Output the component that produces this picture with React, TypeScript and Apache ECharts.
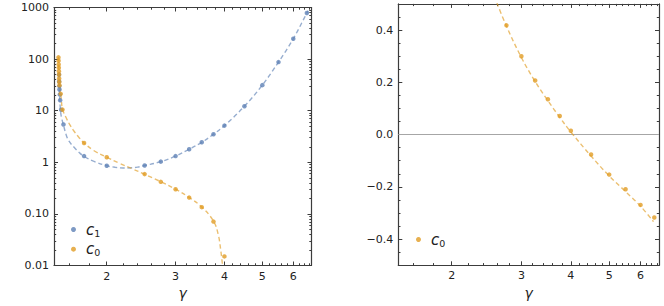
import React, { useEffect, useRef } from 'react';
import * as echarts from 'echarts';

// ---- axis ticks ----
const gammaRange = [1.466, 6.68];
const xTickValues = [2, 3, 4, 5, 6];
const xTickLabels = ['2', '3', '4', '5', '6'];
const xMinorTicks = [1.6, 1.8, 2.2, 2.4, 2.6, 2.8, 3.2, 3.4, 3.6, 3.8, 4.2, 4.4, 4.6, 4.8, 5.2, 5.4, 5.6, 5.8, 6.2, 6.4, 6.6];

const logYTickExp = [-2, -1, 0, 1, 2, 3];
const logYTickLabels = ['0.01', '0.10', '1', '10', '100', '1000'];
const logYMinorMult = [2, 3, 4, 5, 6, 7, 8, 9];

const linYRange = [-0.5, 0.5];
const linYTicks = [-0.4, -0.2, 0, 0.2, 0.4];
const linYTickLabels = ['\u22120.4', '\u22120.2', '0.0', '0.2', '0.4'];
const linYMinorTicks = [-0.45, -0.35, -0.3, -0.25, -0.15, -0.1, -0.05, 0.05, 0.1, 0.15, 0.25, 0.3, 0.35, 0.45];

// ---- data: points ----
const c1Gamma = [1.510, 1.511, 1.513, 1.514, 1.517, 1.520, 1.529, 1.550, 1.75, 2.0, 2.5, 2.75, 3.0, 3.25, 3.5, 3.75, 4.0, 4.5, 5.0, 5.5, 6.0, 6.5];
const c1Value = [49.6, 36.7, 30.0, 25.7, 20.5, 15.9, 10.4, 5.4, 1.32, 0.86, 0.865, 1.03, 1.32, 1.79, 2.44, 3.49, 5.14, 12.2, 31.3, 87.5, 248, 782];

const c0Gamma = [1.505, 1.506, 1.507, 1.508, 1.509, 1.510, 1.511, 1.512, 1.514, 1.525, 1.541, 1.75, 2.0, 2.5, 2.75, 3.0, 3.25, 3.5, 3.75, 4.0, 4.5, 5.0, 5.5, 6.0, 6.5];
const c0Value = [108, 93, 79, 68, 58, 50, 42, 36, 31, 21.2, 10.5, 2.37, 1.25, 0.59, 0.418, 0.30, 0.207, 0.135, 0.071, 0.015, -0.076, -0.153, -0.209, -0.269, -0.317];

// ---- data: fitted curves ----
const c1CurveGamma = [1.509, 1.512, 1.516, 1.521, 1.53, 1.55, 1.575, 1.6, 1.65, 1.7, 1.75, 1.85, 2.0, 2.1, 2.2, 2.3, 2.4, 2.5, 2.75, 3.0, 3.25, 3.5, 3.75, 4.0, 4.5, 5.0, 5.5, 6.0, 6.5, 6.55];
const c1CurveValue = [50, 30, 18, 11.5, 7.8, 5.3, 3.4, 2.6, 1.95, 1.55, 1.30, 1.05, 0.86, 0.80, 0.777, 0.78, 0.808, 0.865, 1.03, 1.32, 1.79, 2.44, 3.49, 5.14, 12.2, 31.3, 87.5, 248, 782, 870];

// left panel (log scale) dashed c0 fit
const c0LogCurveGamma = [1.505, 1.508, 1.511, 1.515, 1.52, 1.53, 1.541, 1.575, 1.61, 1.65, 1.7, 1.75, 1.85, 2.0, 2.15, 2.32, 2.5, 2.75, 3.0, 3.25, 3.5, 3.75, 3.856, 3.917, 3.957];
const c0LogCurveValue = [110, 70, 45, 33, 26, 17, 10.8, 7.3, 5.3, 4.0, 3.0, 2.37, 1.70, 1.25, 0.966, 0.753, 0.587, 0.42, 0.301, 0.208, 0.136, 0.0725, 0.04, 0.019, 0.0098];

// right panel (linear scale) dashed c0 fit
const c0LinCurveGamma = [2.6, 2.75, 3.0, 3.25, 3.5, 3.75, 4.0, 4.5, 5.0, 5.5, 6.0, 6.47];
const c0LinCurveValue = [0.505, 0.415, 0.295, 0.203, 0.13, 0.066, 0.01, -0.082, -0.158, -0.218, -0.274, -0.333];

const BLUE = '#5e81b5';
const ORANGE = '#e19c24';
const AX = '#3c3c3c';
const TXT = '#222222';
const FONT = 'DejaVu Sans';

const lx = (g: number) => Math.log(g);
const ly = (v: number) => Math.log10(v);

const frameLine = { show: true, onZero: false, lineStyle: { color: AX, width: 1.2 } };
const noLine = { show: false, onZero: false };

function xAxes(gridIndex: number) {
  const min = lx(gammaRange[0]);
  const max = lx(gammaRange[1]);
  const major = xTickValues.map(lx);
  const minor = xMinorTicks.map(lx);
  const base: any = { type: 'value', gridIndex, min, max, splitLine: { show: false } };
  return [
    {
      ...base, position: 'bottom', axisLine: frameLine,
      axisTick: { show: true, inside: true, length: 4, customValues: major, lineStyle: { color: AX, width: 1 } },
      axisLabel: {
        show: true, customValues: major, margin: 5, color: TXT, fontFamily: FONT, fontSize: 11,
        formatter: (v: number) => {
          const i = major.findIndex((m) => Math.abs(m - v) < 1e-6);
          return i >= 0 ? xTickLabels[i] : '';
        },
      },
      name: '\u03b3', nameLocation: 'middle', nameGap: 19,
      nameTextStyle: { fontStyle: 'italic', fontSize: 14, fontFamily: FONT, color: TXT },
    },
    {
      ...base, position: 'bottom', axisLine: noLine,
      axisTick: { show: true, inside: true, length: 2.2, customValues: minor, lineStyle: { color: AX, width: 1 } },
      axisLabel: { show: false },
    },
    {
      ...base, position: 'top', axisLine: frameLine,
      axisTick: { show: true, inside: true, length: 4, customValues: major, lineStyle: { color: AX, width: 1 } },
      axisLabel: { show: false },
    },
    {
      ...base, position: 'top', axisLine: noLine,
      axisTick: { show: true, inside: true, length: 2.2, customValues: minor, lineStyle: { color: AX, width: 1 } },
      axisLabel: { show: false },
    },
  ];
}

function yAxes(gridIndex: number, min: number, max: number, major: number[], minor: number[], fmt: (v: number) => string) {
  const base: any = { type: 'value', gridIndex, min, max, splitLine: { show: false } };
  return [
    {
      ...base, position: 'left', axisLine: frameLine,
      axisTick: { show: true, inside: true, length: 4, customValues: major, lineStyle: { color: AX, width: 1 } },
      axisLabel: { show: true, customValues: major, margin: 5, color: TXT, fontFamily: FONT, fontSize: 11, formatter: fmt },
    },
    {
      ...base, position: 'left', axisLine: noLine,
      axisTick: { show: true, inside: true, length: 2.2, customValues: minor, lineStyle: { color: AX, width: 1 } },
      axisLabel: { show: false },
    },
    {
      ...base, position: 'right', axisLine: frameLine,
      axisTick: { show: true, inside: true, length: 4, customValues: major, lineStyle: { color: AX, width: 1 } },
      axisLabel: { show: false },
    },
    {
      ...base, position: 'right', axisLine: noLine,
      axisTick: { show: true, inside: true, length: 2.2, customValues: minor, lineStyle: { color: AX, width: 1 } },
      axisLabel: { show: false },
    },
  ];
}

const legendRich = {
  i: { fontStyle: 'italic', fontSize: 15, fontFamily: FONT, color: TXT, lineHeight: 17, padding: [0, 0, 0, 5] },
  s: { fontSize: 9.5, fontFamily: FONT, color: TXT, verticalAlign: 'bottom' },
};

export default function App() {
  const ref = useRef<HTMLDivElement>(null);
  useEffect(() => {
    if (!ref.current) return;
    const chart = echarts.init(ref.current, undefined, { renderer: 'svg' });

    const logMinor: number[] = [];
    for (let e = -2; e <= 2; e++) logYMinorMult.forEach((k) => logMinor.push(Math.log10(k) + e));

    const leftY = yAxes(0, -2, 3, logYTickExp, logMinor, (v: number) => {
      const i = logYTickExp.indexOf(Math.round(v));
      return i >= 0 ? logYTickLabels[i] : '';
    });
    const rightY = yAxes(1, linYRange[0], linYRange[1], linYTicks, linYMinorTicks, (v: number) => {
      const i = linYTicks.findIndex((t) => Math.abs(t - v) < 1e-6);
      return i >= 0 ? linYTickLabels[i] : '';
    });

    const c1Pts = c1Gamma.map((g, i) => [lx(g), ly(c1Value[i])]);
    const c0PtsLog = c0Gamma.map((g, i) => [g, c0Value[i]]).filter((p) => p[1] > 0).map((p) => [lx(p[0]), ly(p[1])]);
    const c0PtsLin = c0Gamma.map((g, i) => [g, c0Value[i]]).filter((p) => Math.abs(p[1]) <= 0.5).map((p) => [lx(p[0]), p[1]]);
    const c1Line = c1CurveGamma.map((g, i) => [lx(g), ly(c1CurveValue[i])]);
    const c0LineLog = c0LogCurveGamma.map((g, i) => [lx(g), ly(c0LogCurveValue[i])]);
    const c0LineLin = c0LinCurveGamma.map((g, i) => [lx(g), c0LinCurveValue[i]]);

    const dashed = (color: string) => ({ color, width: 1.4, type: [4.5, 3] as any, opacity: 0.65 });

    chart.setOption({
      animation: false,
      backgroundColor: '#ffffff',
      grid: [
        { left: 54, top: 7.5, width: 257.5, height: 258 },
        { left: 398.3, top: 3.9, width: 260.7, height: 261.4 },
      ],
      xAxis: [...xAxes(0), ...xAxes(1)],
      yAxis: [...leftY, ...rightY],
      legend: [
        {
          data: ['c1', 'c0'], orient: 'vertical', left: 66, top: 217, itemWidth: 5, itemHeight: 5, itemGap: 3.7,
          icon: 'circle', selectedMode: false,
          formatter: (n: string) => `{i|c}{s|${n.slice(1)}}`,
          textStyle: { rich: legendRich },
        },
        {
          data: ['c0'], orient: 'vertical', left: 411, top: 227, itemWidth: 5, itemHeight: 5,
          icon: 'circle', selectedMode: false,
          formatter: (n: string) => `{i|c}{s|${n.slice(1)}}`,
          textStyle: { rich: legendRich },
        },
      ],
      series: [
        { name: 'c1 fit', type: 'line', xAxisIndex: 0, yAxisIndex: 0, data: c1Line, showSymbol: false, smooth: 0.4, lineStyle: dashed(BLUE), z: 2 },
        { name: 'c0 fit', type: 'line', xAxisIndex: 0, yAxisIndex: 0, data: c0LineLog, showSymbol: false, smooth: 0.4, lineStyle: dashed(ORANGE), z: 2 },
        { name: 'c1', type: 'scatter', xAxisIndex: 0, yAxisIndex: 0, data: c1Pts, symbolSize: 4.5, itemStyle: { color: BLUE }, z: 3 },
        { name: 'c0', type: 'scatter', xAxisIndex: 0, yAxisIndex: 0, data: c0PtsLog, symbolSize: 4.5, itemStyle: { color: ORANGE }, z: 3 },
        {
          name: 'c0 fit right', type: 'line', xAxisIndex: 4, yAxisIndex: 4, data: c0LineLin, showSymbol: false, smooth: 0.4, lineStyle: dashed(ORANGE), z: 2,
          markLine: { silent: true, symbol: 'none', label: { show: false }, lineStyle: { color: '#a6a6a6', width: 1.2, type: 'solid', opacity: 1 }, data: [{ yAxis: 0 }], z: 1 },
        },
        { name: 'c0', type: 'scatter', xAxisIndex: 4, yAxisIndex: 4, data: c0PtsLin, symbolSize: 4.5, itemStyle: { color: ORANGE }, z: 3 },
      ],
    });
    return () => chart.dispose();
  }, []);
  return <div ref={ref} style={{ position: 'absolute', left: 0, top: 0, width: 664, height: 306 }} />;
}
